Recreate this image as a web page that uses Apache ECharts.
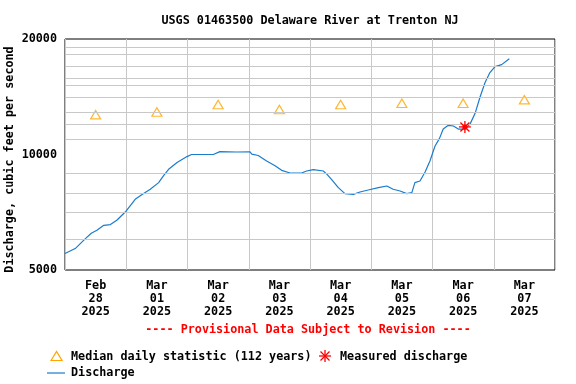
<!DOCTYPE html>
<html>
<head>
<meta charset="utf-8">
<script src="https://cdn.jsdelivr.net/npm/echarts@6/dist/echarts.min.js"></script>
<style>html,body{margin:0;padding:0;background:#fff}#c{width:576px;height:384px}</style>
</head>
<body>
<div id="c"></div>
<script>
// ---- data ----
const dayLabels = ['Feb\n28\n2025','Mar\n01\n2025','Mar\n02\n2025','Mar\n03\n2025','Mar\n04\n2025','Mar\n05\n2025','Mar\n06\n2025','Mar\n07\n2025'];
const yTickLabels = [5000, 10000, 20000];
const yGridValues = [6000,7000,8000,9000,11000,12000,13000,14000,15000,16000,17000,18000,19000];
// hours since Feb 28 00:00
const dischargeHours = [0,4.0,8.0,10.3,12.5,15.2,17.8,20.4,24.0,27.5,30.2,33.4,36.7,38.7,40.6,43.9,47.8,49.6,58.1,60.7,67.3,72.5,73.2,75.7,79.0,82.3,84.9,88.2,92.7,94.7,97.3,101.2,102.5,104.5,107.1,109.7,113.0,115.6,118.8,122.8,126.1,128.6,131.3,133.9,135.9,137.1,139.1,141.1,143.0,145.0,146.7,148.2,150.2,152.2,154.1,156.7,158.7,160.7,162.6,164.6,166.5,168.5,171.1,174.1];
const dischargeValues = [5520,5686,6037,6232,6344,6537,6566,6750,7125,7641,7870,8116,8448,8827,9150,9526,9875,10000,10000,10175,10150,10160,10020,9940,9617,9350,9095,8950,8950,9056,9130,9056,8900,8600,8197,7907,7870,7985,8082,8197,8279,8116,8034,7907,7955,8448,8531,9000,9617,10524,11000,11650,11915,11865,11650,11650,12000,12800,14100,15400,16350,16950,17150,17770];
const medianHours = [12,36,60,84,108,132,156,180];
const medianValues = [12700,12900,13500,13100,13500,13600,13600,13900];
const measuredHours = [156.7];
const measuredValues = [11800];

const FONT = 'DejaVu Sans Mono';
const FS = 11.75;
const F = 'bold ' + FS + 'px "DejaVu Sans Mono"';
const lg = v => Math.log10(v);

const chart = echarts.init(document.getElementById('c'), null, {renderer:'canvas'});

function asterisk(params, api) {
  const p = api.coord([api.value(0), api.value(1)]);
  const r = 6, d = 4.5;
  const st = {stroke:'#ff0000', lineWidth:1.3};
  return {type:'group', children:[
    {type:'line', shape:{x1:p[0]-r,y1:p[1],x2:p[0]+r,y2:p[1]}, style:st},
    {type:'line', shape:{x1:p[0],y1:p[1]-r,x2:p[0],y2:p[1]+r}, style:st},
    {type:'line', shape:{x1:p[0]-d,y1:p[1]-d,x2:p[0]+d,y2:p[1]+d}, style:st},
    {type:'line', shape:{x1:p[0]-d,y1:p[1]+d,x2:p[0]+d,y2:p[1]-d}, style:st},
    {type:'circle', shape:{cx:p[0],cy:p[1],r:2.5}, style:{fill:'#ff0000'}}
  ]};
}

const option = {
  animation:false,
  backgroundColor:'#fff',
  grid:{left:65, right:21, top:39, bottom:114, containLabel:false, outerBoundsMode:'none',
        show:true, borderColor:'#000', borderWidth:1, backgroundColor:'transparent'},
  xAxis:[
    {type:'value', min:0, max:192, interval:24, axisLine:{show:false}, axisTick:{show:false}, axisLabel:{show:false},
     splitLine:{show:true, lineStyle:{color:'#c8c8c8', width:1}}},
    {type:'category', data:dayLabels, boundaryGap:true, position:'bottom', axisLine:{show:false}, axisTick:{show:false},
     splitLine:{show:false},
     axisLabel:{fontFamily:FONT, fontWeight:'bold', fontSize:FS, color:'#000', lineHeight:13, margin:9}}
  ],
  yAxis:{type:'value', min:lg(5000), max:lg(20000), interval:lg(2), axisLine:{show:false}, axisTick:{show:false},
    splitLine:{show:false},
    axisLabel:{fontFamily:FONT, fontWeight:'bold', fontSize:FS, color:'#000', margin:8,
      formatter: v => { const r = Math.round(Math.pow(10, v)); const t = yTickLabels.find(k => Math.abs(k - r) < 5); return t ? String(t) : ''; }}
  },
  series:[
    {type:'line', data:[], z:0, silent:true,
     markLine:{silent:true, symbol:'none', label:{show:false}, animation:false,
       lineStyle:{color:'#c8c8c8', width:1, type:'solid'},
       data: yGridValues.map(v => ({yAxis: lg(v)}))}},
    {type:'line', name:'Discharge', xAxisIndex:0, showSymbol:false, symbol:'none', z:3,
     lineStyle:{color:'#1a7ccc', width:1.2},
     data: dischargeHours.map((h,i) => [h, lg(dischargeValues[i])])},
    {type:'scatter', name:'Median', xAxisIndex:0, symbol:'triangle', symbolSize:[10,8.5], z:4,
     itemStyle:{color:'rgba(255,255,255,0)', borderColor:'#ffa500', borderWidth:1.2},
     data: medianHours.map((h,i) => [h, lg(medianValues[i])])},
    {type:'custom', name:'Measured', xAxisIndex:0, z:5, renderItem: asterisk,
     data: measuredHours.map((h,i) => [h, lg(measuredValues[i])])}
  ],
  graphic:[
    {type:'text', x:310, y:21, style:{text:'USGS 01463500 Delaware River at Trenton NJ', font:F, fill:'#000', align:'center', verticalAlign:'middle'}},
    {type:'text', x:9.5, y:159.5, rotation:Math.PI/2, style:{text:'Discharge, cubic feet per second', font:F, fill:'#000', align:'center', verticalAlign:'middle'}},
    {type:'text', x:308, y:330, style:{text:'---- Provisional Data Subject to Revision ----', font:F, fill:'#ff0000', align:'center', verticalAlign:'middle'}},
    {type:'polygon', shape:{points:[[51,360.5],[56.5,351.5],[62,360.5]]}, style:{fill:'none', stroke:'#ffa500', lineWidth:1.2}},
    {type:'text', x:71, y:357, style:{text:'Median daily statistic (112 years)', font:F, fill:'#000', align:'left', verticalAlign:'middle'}},
    {type:'line', shape:{x1:319,y1:356,x2:331,y2:356}, style:{stroke:'#ff0000', lineWidth:1.3}},
    {type:'line', shape:{x1:325,y1:350,x2:325,y2:362}, style:{stroke:'#ff0000', lineWidth:1.3}},
    {type:'line', shape:{x1:320.5,y1:351.5,x2:329.5,y2:360.5}, style:{stroke:'#ff0000', lineWidth:1.3}},
    {type:'line', shape:{x1:320.5,y1:360.5,x2:329.5,y2:351.5}, style:{stroke:'#ff0000', lineWidth:1.3}},
    {type:'text', x:340, y:357, style:{text:'Measured discharge', font:F, fill:'#000', align:'left', verticalAlign:'middle'}},
    {type:'line', shape:{x1:47,y1:373,x2:65,y2:373}, style:{stroke:'#1a7ccc', lineWidth:1.2}},
    {type:'text', x:71, y:373, style:{text:'Discharge', font:F, fill:'#000', align:'left', verticalAlign:'middle'}}
  ]
};
chart.setOption(option);
</script>
</body>
</html>
